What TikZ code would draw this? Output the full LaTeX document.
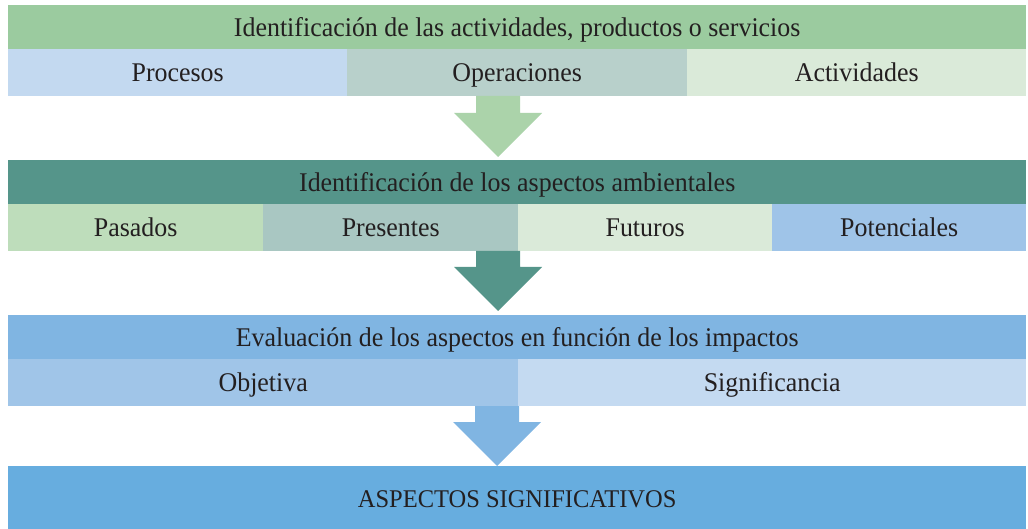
\documentclass[tikz,border=0pt]{standalone}
\usepackage{fontspec}
\setmainfont{Liberation Serif}[FakeStretch=0.96]
\usepackage{xcolor}
\usepackage{tikz}

\definecolor{verdeA}{HTML}{9BCB9F}
\definecolor{verdeF}{HTML}{ABD3AA}
\definecolor{azulP}{HTML}{C3D9F0}
\definecolor{grisV}{HTML}{B8D0CB}
\definecolor{verdeC}{HTML}{DAEAD9}
\definecolor{teal}{HTML}{55958A}
\definecolor{verdeP}{HTML}{BEDDBB}
\definecolor{grisP}{HTML}{A9C7C2}
\definecolor{azulPot}{HTML}{9FC4E8}
\definecolor{azulE}{HTML}{80B5E2}
\definecolor{azulO}{HTML}{A0C5E8}
\definecolor{azulS}{HTML}{C4DAF1}
\definecolor{azulF}{HTML}{67ADDF}
\definecolor{texto}{HTML}{231F20}

\tikzset{
  caja/.style={anchor=north west, inner sep=0pt, text=texto,
    font=\fontsize{27}{30}\selectfont, text height=20pt, text depth=2pt},
  banda/.style={caja, minimum width=1018pt, minimum height=44pt},
  fila/.style={caja, minimum height=47pt}
}

\begin{document}
\begin{tikzpicture}[x=1pt,y=-1pt]
\useasboundingbox (0,0) rectangle (1028,529);

% primer bloque
\node[banda,fill=verdeA] (ident) at (8,5) {Identificación de las actividades, productos o servicios};
\node[fila,fill=azulP,minimum width=339pt] (proc) at (8,49) {Procesos};
\node[fila,fill=grisV,minimum width=340pt] (oper) at (347,49) {Operaciones};
\node[fila,fill=verdeC,minimum width=339pt] (activ) at (687,49) {Actividades};

% segundo bloque
\node[banda,fill=teal] (aspec) at (8,160) {Identificación de los aspectos ambientales};
\node[fila,fill=verdeP,minimum width=255pt] (pas) at (8,204) {Pasados};
\node[fila,fill=grisP,minimum width=255pt] (pres) at (263,204) {Presentes};
\node[fila,fill=verdeC,minimum width=254pt] (fut) at (518,204) {Futuros};
\node[fila,fill=azulPot,minimum width=254pt] (pot) at (772,204) {Potenciales};

% tercer bloque
\node[banda,fill=azulE] (eval) at (8,315) {Evaluación de los aspectos en función de los impactos};
\node[fila,fill=azulO,minimum width=510pt] (obj) at (8,359) {Objetiva};
\node[fila,fill=azulS,minimum width=508pt] (sig) at (518,359) {Significancia};

% resultado
\node[banda,fill=azulF,minimum height=63pt,font=\fontsize{25.5}{28}\selectfont,text height=21pt,text depth=1pt] (result) at (8,466) {ASPECTOS SIGNIFICATIVOS};

% flechas
\coordinate (f1) at (498,96);
\coordinate (f2) at (498,251);
\coordinate (f3) at (497,406);
\fill[verdeF] (f1) ++(-22,0) -- ++(44,0) -- ++(0,17) -- ++(22,0) -- ++(-44,44) -- ++(-44,-44) -- ++(22,0) -- cycle;
\fill[teal] (f2) ++(-22,0) -- ++(44,0) -- ++(0,16) -- ++(22,0) -- ++(-44,44) -- ++(-44,-44) -- ++(22,0) -- cycle;
\fill[azulE] (f3) ++(-22,0) -- ++(44,0) -- ++(0,16) -- ++(22,0) -- ++(-44,44) -- ++(-44,-44) -- ++(22,0) -- cycle;
\end{tikzpicture}
\end{document}
